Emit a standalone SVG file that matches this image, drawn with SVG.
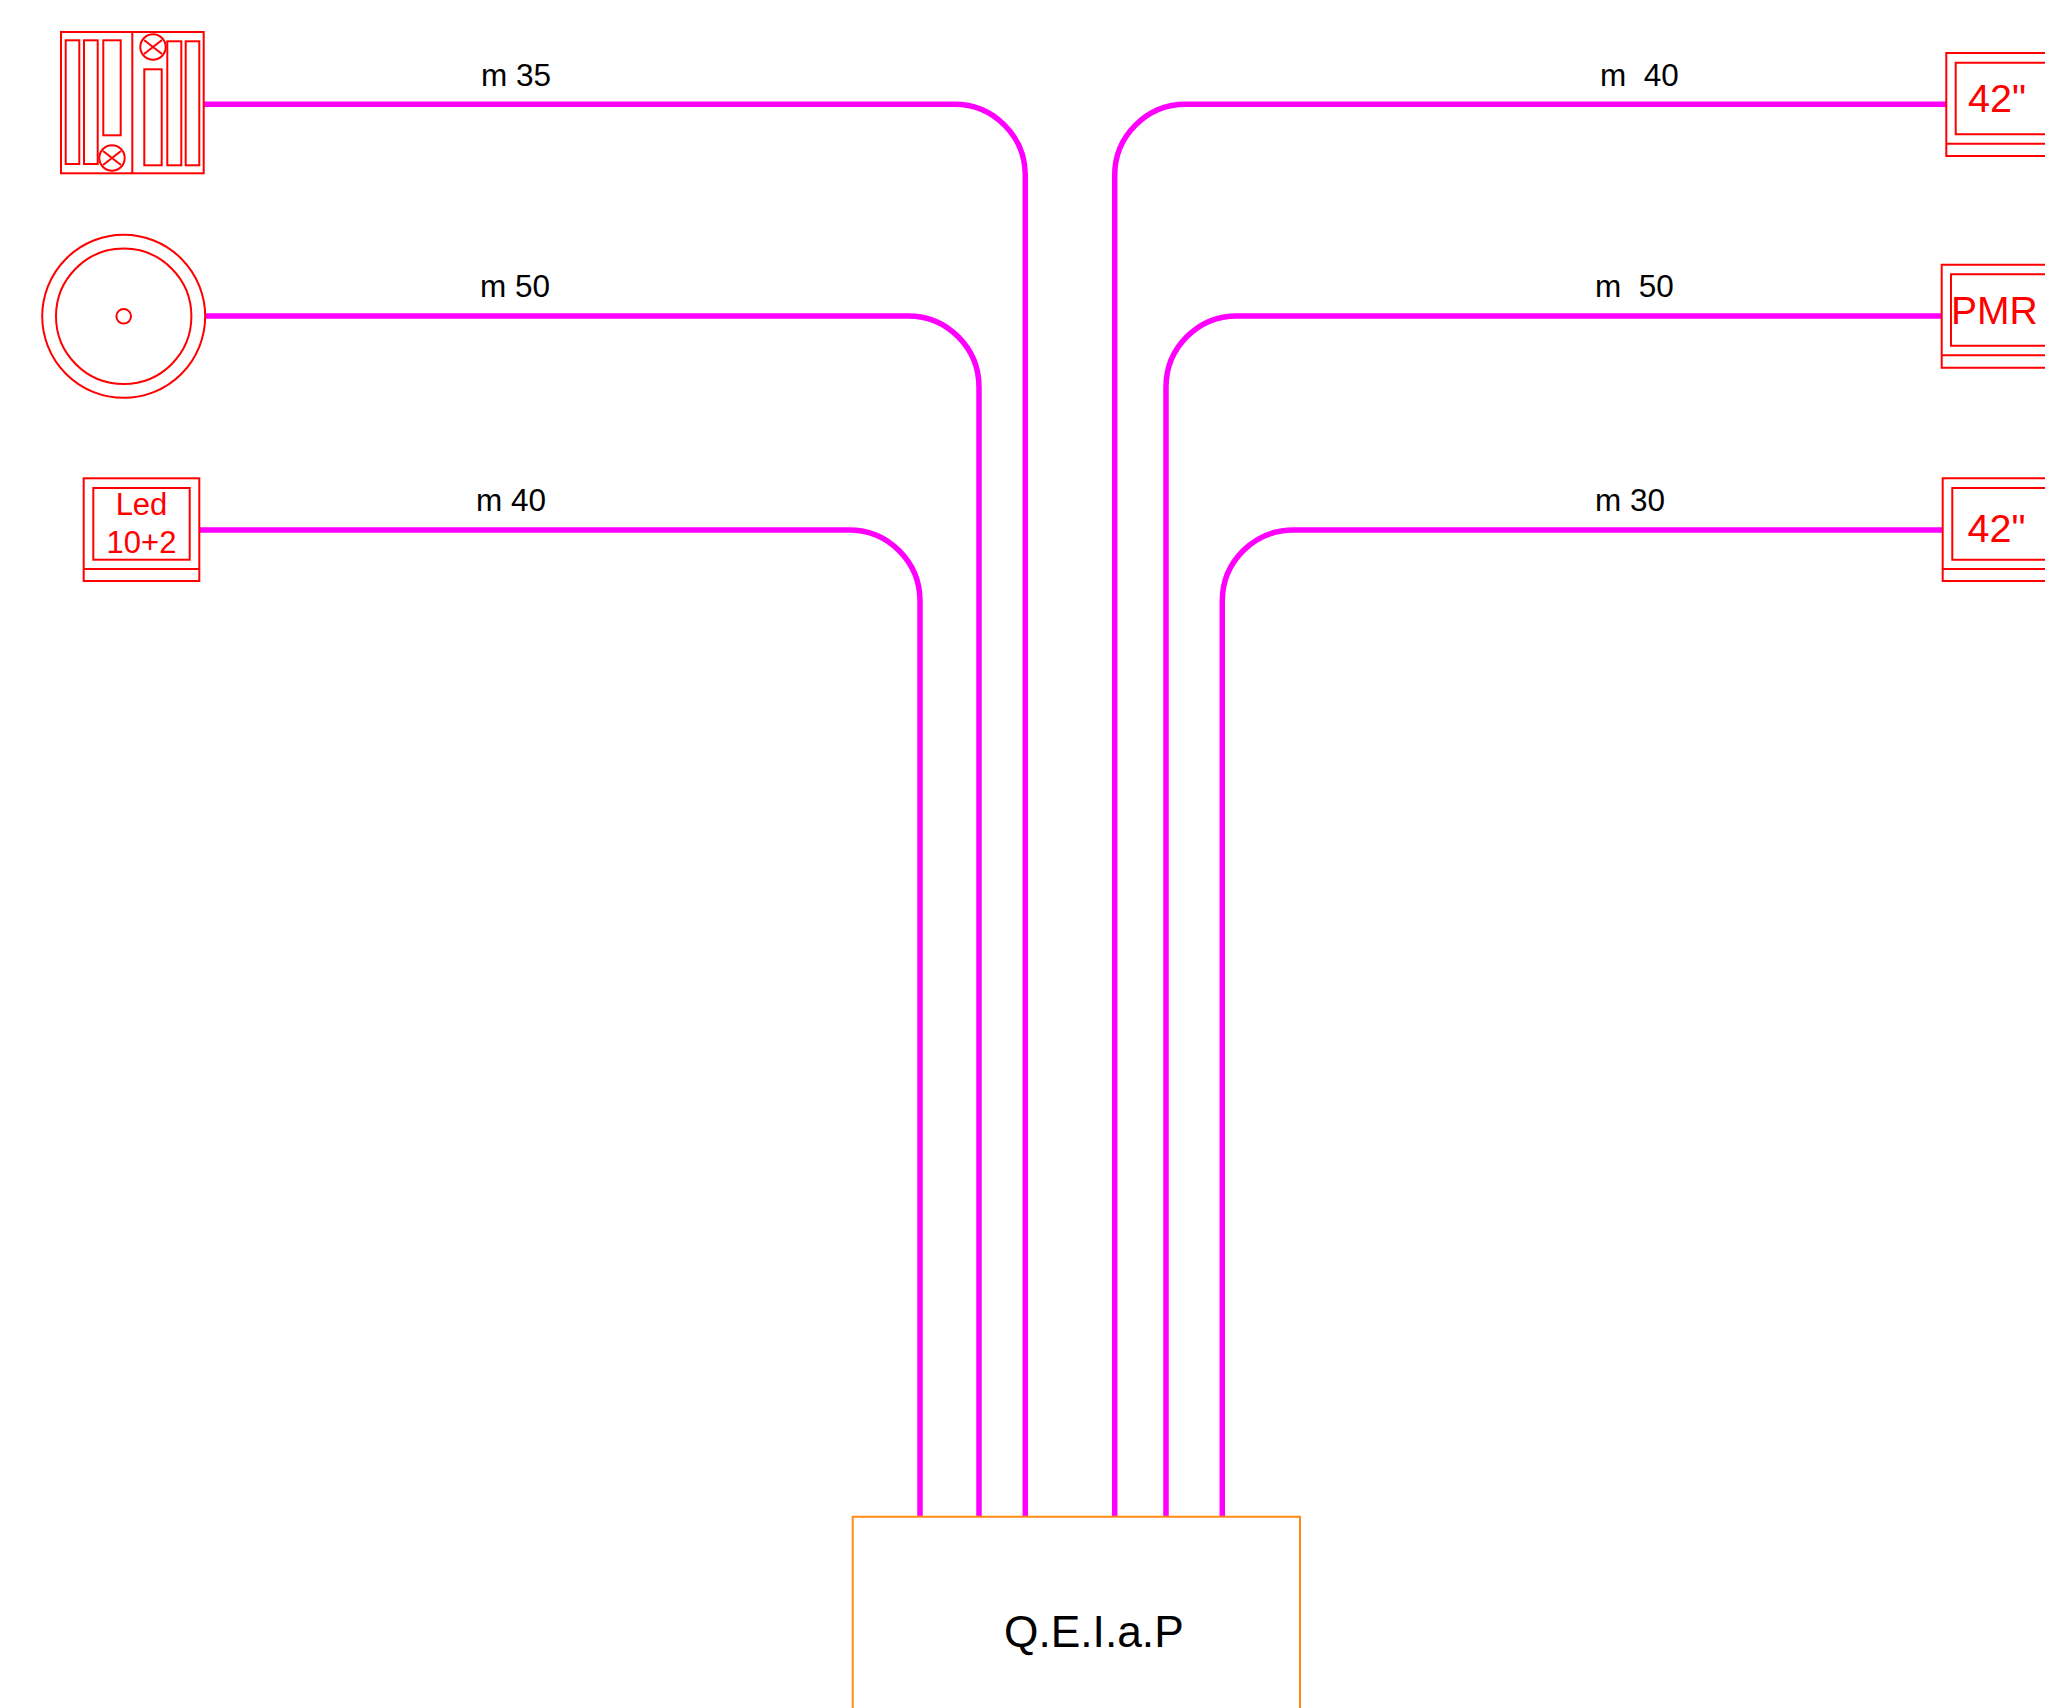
<svg xmlns="http://www.w3.org/2000/svg" width="2045" height="1708" viewBox="0 0 2045 1708">
<style>
.r{fill:none;stroke:#ff0000;stroke-width:2}
.w{fill:none;stroke:#ff00ff;stroke-width:5.500}
.b{fill:none;stroke:#ff8a14;stroke-width:2}
.t{font-family:"Liberation Sans",Arial,sans-serif;fill:#ff0000}
.l{font-family:"Liberation Sans",Arial,sans-serif;fill:#000;font-size:31.500px}
</style>
<rect width="2045" height="1708" fill="#fff"/>
<g id="connectors">
<path class="w" d="M204 104.300H954.300A71 71 0 0 1 1025.300 175.300V1516.700"/>
<path class="w" d="M205 316H908A71 71 0 0 1 979 387V1516.700"/>
<path class="w" d="M199.300 530H849A71 71 0 0 1 920 601V1516.700"/>
<path class="w" d="M1946.300 104.300H1185.700A71 71 0 0 0 1114.700 175.300V1516.700"/>
<path class="w" d="M1941.700 316H1237A71 71 0 0 0 1166 387V1516.700"/>
<path class="w" d="M1942.700 530H1293.300A71 71 0 0 0 1222.300 601V1516.700"/>
</g>
<g id="node-panel">
<rect class="r" x="61" y="32" width="142.700" height="141.300"/>
<path class="r" d="M132.300 32V173.300"/>
<rect class="r" x="65.700" y="40.300" width="13.600" height="123.700"/>
<rect class="r" x="84" y="40.300" width="13.700" height="123.700"/>
<rect class="r" x="103.300" y="40.300" width="17.400" height="95"/>
<rect class="r" x="144.300" y="69.300" width="17.400" height="96"/>
<rect class="r" x="167.300" y="41.300" width="14" height="124"/>
<rect class="r" x="185.700" y="41.300" width="13.600" height="124"/>
<circle class="r" cx="112" cy="158" r="12.700"/>
<path class="r" d="M103 151L121 165M121 151L103 165"/>
<circle class="r" cx="153" cy="47" r="12.700"/>
<path class="r" d="M144 40L162 54M162 40L144 54"/>
</g>
<g id="node-circle">
<circle class="r" cx="123.700" cy="316.300" r="81.500"/>
<circle class="r" cx="123.700" cy="316.300" r="67.700"/>
<circle class="r" cx="123.700" cy="316.300" r="7.300"/>
</g>
<g id="node-led">
<rect class="r" x="83.700" y="478.300" width="115.600" height="102.700"/>
<path class="r" d="M83.700 569H199.300"/>
<rect class="r" x="93.300" y="488" width="96.400" height="71.700"/>
<text class="t" x="141.500" y="515" font-size="31" text-anchor="middle">Led</text>
<text class="t" x="141.500" y="553" font-size="31" text-anchor="middle">10+2</text>
</g>
<g id="node-42-top">
<path class="r" d="M2045 53H1946.300V156H2045M1946.300 143.700H2045"/>
<path class="r" d="M2045 62.700H1955.700V134.300H2045"/>
<text class="t" x="1968" y="112.300" font-size="39.500">42"</text>
</g>
<g id="node-pmr">
<path class="r" d="M2045 264.700H1941.700V367.700H2045M1941.700 355.300H2045"/>
<path class="r" d="M2045 274.300H1951V345.700H2045"/>
<text class="t" x="1951" y="324" font-size="39">PMR</text>
</g>
<g id="node-42-bottom">
<path class="r" d="M2045 478.300H1942.700V581H2045M1942.700 569H2045"/>
<path class="r" d="M2045 488H1952.300V559.700H2045"/>
<text class="t" x="1967.500" y="541.700" font-size="39.500">42"</text>
</g>
<g id="node-qeiap">
<path class="b" d="M852.700 1708V1516.700H1300V1708"/>
<text x="1004" y="1646.700" font-family="'Liberation Sans',Arial,sans-serif" font-size="44.300" fill="#000">Q.E.I.a.P</text>
</g>
<g id="labels">
<text class="l" x="481" y="86">m 35</text>
<text class="l" x="480" y="297">m 50</text>
<text class="l" x="476" y="511">m 40</text>
<text class="l" x="1600" y="86" xml:space="preserve">m  40</text>
<text class="l" x="1595" y="297" xml:space="preserve">m  50</text>
<text class="l" x="1595" y="511">m 30</text>
</g>
</svg>
